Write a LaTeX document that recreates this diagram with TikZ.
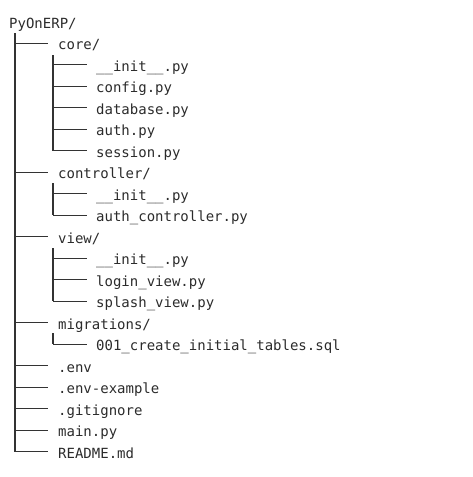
\documentclass[tikz,border=0pt]{standalone}
\usepackage{fontspec}
\newfontfamily\treemono{DejaVu Sans Mono}
\definecolor{ink}{HTML}{2B2B2B}
\definecolor{wire}{HTML}{333333}
\begin{document}
\begin{tikzpicture}[x=1pt,y=-1pt,
  lbl/.style={anchor=base west,inner sep=0pt,font=\treemono\fontsize{14}{16}\selectfont,text=ink},
  wirestyle/.style={draw=wire,line width=1.2pt}]
\useasboundingbox (0,0) rectangle (473,477);
% rows
\def\ry#1{21.7+21.5*#1}
\node[lbl] (root) at (9,{\ry{0}+6.5}) {PyOnERP/};
\foreach \n/\i/\t in {core/1/{core/}, controller/7/{controller/}, view/10/{view/}, migrations/14/{migrations/}, env/16/.env, envex/17/.env-example, gitignore/18/.gitignore, mainpy/19/main.py, readme/20/README.md}{
  \node[lbl] (\n) at (58,{\ry{\i}+6.5}) {\t};
  \coordinate (t-\n) at (15,{\ry{\i}});
  \coordinate (e-\n) at (48,{\ry{\i}});
}
\foreach \n/\i/\t in {cinit/2/\_\_init\_\_.py, config/3/config.py, database/4/database.py, auth/5/auth.py, session/6/session.py, kinit/8/\_\_init\_\_.py, authctl/9/auth\_controller.py, vinit/11/\_\_init\_\_.py, login/12/login\_view.py, splash/13/splash\_view.py, sql/15/001\_create\_initial\_tables.sql}{
  \node[lbl] (\n) at (96,{\ry{\i}+6.5}) {\t};
  \coordinate (t-\n) at (53,{\ry{\i}});
  \coordinate (e-\n) at (87,{\ry{\i}});
}
% main trunk
\coordinate (rootdown) at (15,33);
\draw[wirestyle] (rootdown) -- (t-readme);
\foreach \n in {core,controller,view,migrations,env,envex,gitignore,mainpy,readme}{
  \draw[wirestyle] (t-\n) -- (e-\n);
}
% sub trunks
\coordinate (coredown) at (53,55);
\coordinate (ctldown) at (53,183);
\coordinate (viewdown) at (53,248);
\coordinate (migdown) at (53,333);
\draw[wirestyle] (coredown) -- (t-session);
\draw[wirestyle] (ctldown) -- (t-authctl);
\draw[wirestyle] (viewdown) -- (t-splash);
\draw[wirestyle] (migdown) -- (t-sql);
\foreach \n in {cinit,config,database,auth,session,kinit,authctl,vinit,login,splash,sql}{
  \draw[wirestyle] (t-\n) -- (e-\n);
}
\end{tikzpicture}
\end{document}
